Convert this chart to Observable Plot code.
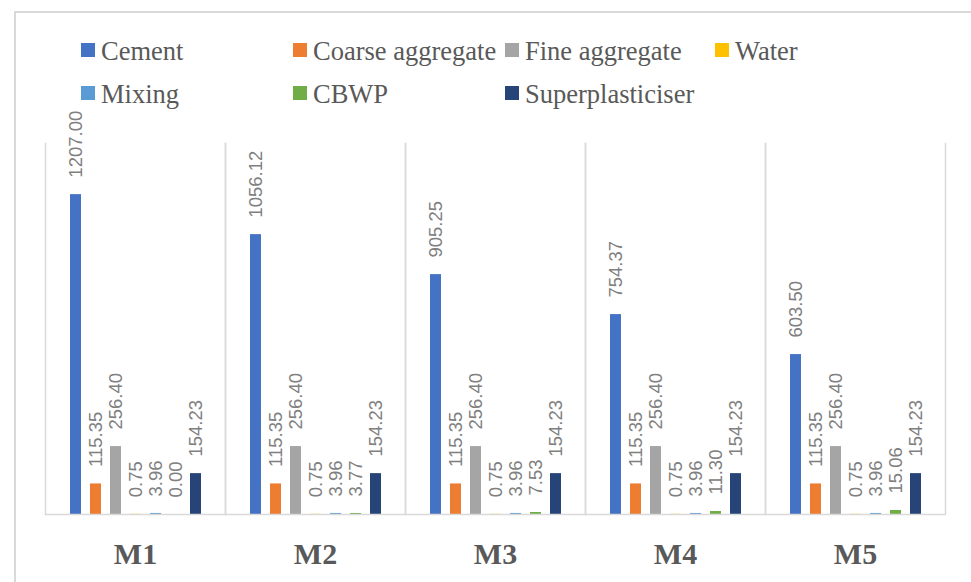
<!DOCTYPE html>
<html>
<head>
<meta charset="utf-8">
<script src="https://cdn.jsdelivr.net/npm/d3@7"></script>
<script src="https://cdn.jsdelivr.net/npm/@observablehq/plot@0.6"></script>
<style>
  html, body { margin: 0; padding: 0; background: #fff; }
  body { width: 971px; height: 582px; overflow: hidden; position: relative; }
  #border { position: absolute; left: 14px; top: 11px; width: 1100px; height: 700px; border: 2px solid #d9d9d9; box-sizing: border-box; }
  #legend { position: absolute; left: 0; top: 0; width: 971px; height: 100px; overflow: visible; }
  #chart { position: absolute; left: 0; top: 100px; }
  #chart svg { overflow: visible; background: transparent; }
</style>
</head>
<body>
<div id="border"></div>
<div id="chart"></div>
<div id="legend"></div>
<script>
const categories = ["M1", "M2", "M3", "M4", "M5"];
const series = ["Cement", "Coarse aggregate", "Fine aggregate", "Water", "Mixing", "CBWP", "Superplasticiser"];
const colors = ["#4472C4", "#ED7D31", "#A5A5A5", "#FFC000", "#5B9BD5", "#70AD47", "#264478"];

const cement = [1207.00, 1056.12, 905.25, 754.37, 603.50];
const coarseAggregate = [115.35, 115.35, 115.35, 115.35, 115.35];
const fineAggregate = [256.40, 256.40, 256.40, 256.40, 256.40];
const water = [0.75, 0.75, 0.75, 0.75, 0.75];
const mixing = [3.96, 3.96, 3.96, 3.96, 3.96];
const cbwp = [0.00, 3.77, 7.53, 11.30, 15.06];
const superplasticiser = [154.23, 154.23, 154.23, 154.23, 154.23];

const seriesValues = [cement, coarseAggregate, fineAggregate, water, mixing, cbwp, superplasticiser];
const data = categories.flatMap((mix, i) =>
  series.map((s, j) => ({mix, series: s, value: seriesValues[j][i]}))
);

const chart = Plot.plot({
  width: 971,
  height: 482,
  marginLeft: 44,
  marginRight: 25,
  marginTop: 43,
  marginBottom: 68,
  style: {background: "transparent", overflow: "visible"},
  fx: {domain: categories, padding: 0, label: null},
  x: {domain: series, axis: null, paddingInner: 0.47, paddingOuter: 1.17},
  y: {domain: [0, 1400], axis: null},
  color: {domain: series, range: colors},
  marks: [
    Plot.frame({anchor: "left", stroke: "#d9d9d9", strokeWidth: 1.5}),
    Plot.frame({anchor: "right", stroke: "#d9d9d9", strokeWidth: 1.5}),
    Plot.barY(data, {fx: "mix", x: "series", y: "value", fill: "series"}),
    Plot.ruleY([0], {stroke: "#d9d9d9", strokeWidth: 1.5}),
    Plot.text(data, {
      fx: "mix", x: "series", y: "value",
      text: d => d.value.toFixed(2),
      rotate: -90, textAnchor: "start", dy: -17,
      fill: "#808080", fontSize: 18.5, fontFamily: "Liberation Sans"
    }),
    Plot.axisFx({
      anchor: "bottom", tickSize: 0, tickPadding: 28, label: null,
      fontSize: 30, fontWeight: "bold", fontFamily: "Liberation Serif", fill: "#595959"
    })
  ]
});
document.getElementById("chart").appendChild(chart);

// Legend (above the chart)
const lsvg = d3.select("#legend").append("svg")
  .attr("width", 971).attr("height", 100)
  .style("overflow", "visible");
const colX = [81, 293, 505, 715];
const rowY = [43, 86];
series.forEach((s, i) => {
  const col = i < 4 ? i : i - 4;
  const row = i < 4 ? 0 : 1;
  const x = colX[col], y = rowY[row];
  lsvg.append("rect").attr("x", x).attr("y", y).attr("width", 14).attr("height", 14).attr("fill", colors[i]);
  lsvg.append("text").attr("x", x + 20).attr("y", y + 16.5)
    .attr("font-family", "Liberation Serif").attr("font-size", 26.5)
    .attr("fill", "#595959").text(s);
});
</script>
</body>
</html>
